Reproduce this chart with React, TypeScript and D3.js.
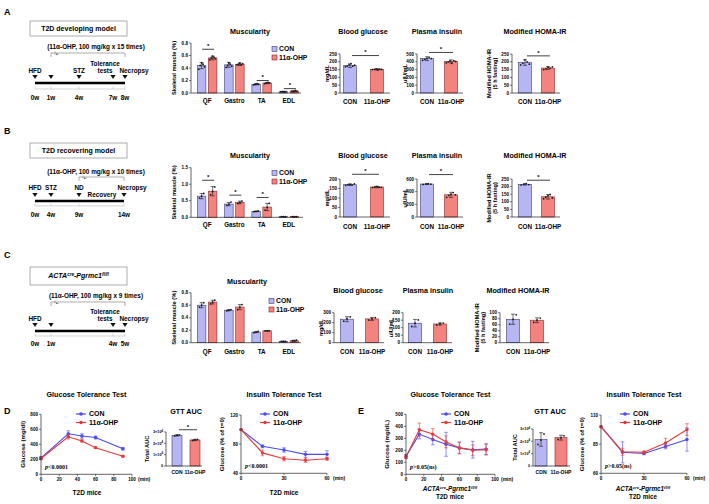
import React from 'react';
import * as d3 from 'd3';

const FONT = "'Liberation Sans', Arial, sans-serif";
const CON_FILL = '#b6b6f3';
const CON_EDGE = '#3c3c78';
const OHP_FILL = '#f3837f';
const OHP_EDGE = '#8a2626';
const CON_LINE = '#4a4af0';
const OHP_LINE = '#e43a3a';
const AXIS = '#222';

const GROUPS = ['CON', '11α-OHP'];
const MUSCLES = ['QF', 'Gastro', 'TA', 'EDL'];

// ---- A: T2D developing model ----
const muscA_con = [0.44, 0.45, 0.14, 0.02];
const muscA_conErr = [0.05, 0.04, 0.01, 0.005];
const muscA_ohp = [0.56, 0.46, 0.16, 0.03];
const muscA_ohpErr = [0.03, 0.02, 0.01, 0.01];
const muscA_sig = [0.7, null, 0.2, 0.07];
const muscA_ticks = [0, 0.2, 0.4, 0.6, 0.8];
const muscA_conPts = [[0.38, 0.44, 0.48, 0.46, 0.42], [0.41, 0.44, 0.48, 0.46, 0.43], [0.13, 0.14, 0.15, 0.14], [0.02, 0.02, 0.02, 0.02]];
const muscA_ohpPts = [[0.53, 0.56, 0.59, 0.57, 0.55], [0.45, 0.46, 0.48, 0.45, 0.47], [0.15, 0.16, 0.17, 0.16], [0.03, 0.02, 0.04, 0.03]];

const glucA = [175, 152];
const glucA_err = [12, 5];
const glucA_pts = [[168, 172, 180, 188, 172, 178], [150, 152, 155, 148, 153, 151]];
const glucA_ticks = [0, 50, 100, 150, 200, 250];
const insA = [440, 405];
const insA_err = [25, 20];
const insA_pts = [[420, 430, 445, 458, 440], [385, 400, 410, 380, 415, 405]];
const insA_ticks = [0, 100, 200, 300, 400, 500];
const homaA = [195, 160];
const homaA_err = [18, 10];
const homaA_pts = [[180, 190, 212, 200, 185], [150, 155, 165, 160, 168]];
const homaA_ticks = [0, 50, 100, 150, 200, 250];

// ---- B: T2D recovering model ----
const muscB_con = [0.64, 0.4, 0.18, 0.02];
const muscB_conErr = [0.08, 0.05, 0.01, 0.005];
const muscB_ohp = [0.79, 0.45, 0.31, 0.02];
const muscB_ohpErr = [0.14, 0.04, 0.11, 0.005];
const muscB_sig = [1.12, 0.67, 0.6, null];
const muscB_ticks = [0, 0.5, 1.0, 1.5];
const muscB_conPts = [[0.58, 0.64, 0.72], [0.36, 0.4, 0.46], [0.17, 0.18, 0.19], [0.02, 0.02, 0.02]];
const muscB_ohpPts = [[0.68, 0.78, 0.92], [0.42, 0.45, 0.49], [0.22, 0.3, 0.42], [0.02, 0.02, 0.02]];

const glucB = [170, 158];
const glucB_err = [4, 4];
const glucB_pts = [[166, 170, 172, 168, 174], [155, 158, 160, 157, 156]];
const glucB_ticks = [0, 50, 100, 150, 200];
const insB = [520, 350];
const insB_err = [8, 40];
const insB_pts = [[515, 520, 525, 518], [310, 340, 360, 385, 350]];
const insB_ticks = [0, 200, 400, 600];
const homaB = [215, 133];
const homaB_err = [5, 15];
const homaB_pts = [[210, 215, 220, 213], [120, 130, 140, 148, 125]];
const homaB_ticks = [0, 50, 100, 150, 200, 250];

// ---- C: ACTA-cre Pgrmc1 fl/fl ----
const muscC_con = [0.6, 0.52, 0.17, 0.02];
const muscC_conErr = [0.04, 0.01, 0.01, 0.005];
const muscC_ohp = [0.65, 0.57, 0.19, 0.03];
const muscC_ohpErr = [0.03, 0.04, 0.005, 0.01];
const muscC_sig = [null, null, null, null];
const muscC_ticks = [0, 0.2, 0.4, 0.6, 0.8];
const muscC_conPts = [[0.57, 0.6, 0.64], [0.51, 0.52, 0.53], [0.16, 0.17, 0.18], [0.02, 0.02, 0.02]];
const muscC_ohpPts = [[0.62, 0.65, 0.68], [0.53, 0.57, 0.61], [0.19, 0.19, 0.19], [0.03, 0.03, 0.04]];

const glucC = [235, 238];
const glucC_err = [25, 15];
const glucC_pts = [[215, 240, 258], [226, 240, 250]];
const glucC_ticks = [0, 100, 200, 300];
const insC = [130, 125];
const insC_err = [25, 8];
const insC_pts = [[108, 130, 152], [118, 127, 131]];
const insC_ticks = [0, 50, 100, 150, 200];
const homaC = [78, 75];
const homaC_err = [17, 8];
const homaC_pts = [[62, 78, 93], [68, 75, 82]];
const homaC_ticks = [0, 20, 40, 60, 80, 100];

// ---- D: T2D mice tolerance tests ----
const gttD_t = [0, 30, 45, 60, 90];
const gttD_con = [220, 540, 510, 490, 340];
const gttD_conErr = [15, 40, 30, 20, 15];
const gttD_ohp = [210, 500, 445, 355, 240];
const gttD_ohpErr = [15, 30, 15, 10, 10];
const gttD_yTicks = [0, 200, 400, 600, 800];
const gttD_xTicks = [0, 20, 40, 60, 80, 100];
const aucD = [2.7e4, 2.3e4];
const aucD_err = [0.06e4, 0.06e4];
const aucD_pts = [[2.65e4, 2.72e4, 2.75e4], [2.25e4, 2.3e4, 2.34e4]];
const auc_ticks = [0, 1e4, 2e4, 3e4];
const ittD_t = [0, 15, 30, 45, 60];
const ittD_con = [100, 77, 72, 66, 66];
const ittD_conErr = [0, 2, 3, 4, 5];
const ittD_ohp = [100, 68, 60, 58, 60];
const ittD_ohpErr = [0, 4, 3, 3, 2];
const ittD_yTicks = [40, 80, 120];
const itt_xTicks = [0, 30, 60];

// ---- E: ACTA-cre Pgrmc1 fl/fl T2D mice ----
const gttE_t = [0, 15, 30, 45, 60, 75, 90];
const gttE_con = [150, 335, 290, 250, 220, 205, 210];
const gttE_conErr = [15, 40, 45, 100, 50, 70, 45];
const gttE_ohp = [145, 372, 335, 270, 220, 200, 205];
const gttE_ohpErr = [15, 55, 45, 50, 45, 45, 45];
const gttE_yTicks = [0, 100, 200, 300, 400, 500];
const aucE = [2.15e4, 2.3e4];
const aucE_err = [0.55e4, 0.2e4];
const aucE_pts = [[1.75e4, 2.1e4, 2.6e4], [2.15e4, 2.3e4, 2.45e4]];
const ittE_t = [0, 15, 30, 45, 60];
const ittE_con = [100, 78, 77, 83, 89];
const ittE_conErr = [0, 9, 1, 2, 10];
const ittE_ohp = [100, 78.5, 78, 86, 97.5];
const ittE_ohpErr = [0, 3, 1, 4, 5];
const ittE_yTicks = [60, 85, 110];

// Timelines
const tlA_weeks = [0, 1, 4, 7, 8];
const tlB_weeks = [0, 4, 9, 14];
const tlC_weeks = [0, 1, 4, 5];

type Fmt = (v: number) => React.ReactNode;

function YAxis({ x, scale, ticks, fmt, fs = 4.6 }: { x: number; scale: any; ticks: number[]; fmt?: Fmt; fs?: number }) {
  const [r0, r1] = scale.range();
  return (
    <g>
      <line x1={x} x2={x} y1={r0} y2={r1} stroke={AXIS} strokeWidth={0.7} />
      {ticks.map((t) => (
        <g key={t}>
          <line x1={x - 2} x2={x} y1={scale(t)} y2={scale(t)} stroke={AXIS} strokeWidth={0.6} />
          <text x={x - 3} y={scale(t)} dy="0.35em" textAnchor="end" fontSize={fs} fontWeight="bold">
            {fmt ? fmt(t) : String(t)}
          </text>
        </g>
      ))}
    </g>
  );
}

function RotLabel({ x, y, lines, fs = 6 }: { x: number; y: number; lines: string[]; fs?: number }) {
  return (
    <text transform={`translate(${x},${y}) rotate(-90)`} textAnchor="middle" fontSize={fs} fontWeight="bold">
      {lines.map((l, i) => (
        <tspan key={i} x={0} dy={i === 0 ? 0 : fs * 1.15}>
          {l}
        </tspan>
      ))}
    </text>
  );
}

function Bar({ cx, w, v, e, pts, y, fill, edge }: any) {
  const top = y(v);
  const base = y(0);
  return (
    <g>
      <rect x={cx - w / 2} y={top} width={w} height={base - top} fill={fill} stroke={edge} strokeWidth={0.6} />
      {pts &&
        pts.map((p: number, i: number) => (
          <circle key={i} cx={cx + (i - (pts.length - 1) / 2) * (w / (pts.length + 1))} cy={y(p)} r={0.9} fill="#1a1a1a" />
        ))}
      {e > 0 && (
        <g stroke="#1a1a1a" strokeWidth={0.6}>
          <line x1={cx} x2={cx} y1={y(v - e)} y2={y(v + e)} />
          <line x1={cx - 2} x2={cx + 2} y1={y(v + e)} y2={y(v + e)} />
          <line x1={cx - 2} x2={cx + 2} y1={y(v - e)} y2={y(v - e)} />
        </g>
      )}
    </g>
  );
}

function Sig({ x1, x2, y }: { x1: number; x2: number; y: number }) {
  return (
    <g>
      <line x1={x1} x2={x2} y1={y} y2={y} stroke="#111" strokeWidth={0.8} />
      <text x={(x1 + x2) / 2} y={y - 1.2} textAnchor="middle" fontSize={6} fontWeight="bold">
        *
      </text>
    </g>
  );
}

function PairBars(props: {
  ax: number; yTop: number; yBot: number; max: number; ticks: number[]; fmt?: Fmt;
  values: number[]; errs: number[]; pts?: number[][]; c1: number; c2: number; axisEnd: number;
  sig?: number; title: string; titleX: number; titleY: number; ylabel: string[]; ylabelX: number;
  labelY: number; labelFs?: number; barW?: number; tickFs?: number;
}) {
  const { ax, yTop, yBot, max, ticks, fmt, values, errs, pts, c1, c2, axisEnd, sig, title, titleX, titleY, ylabel, ylabelX, labelY } = props;
  const y = d3.scaleLinear().domain([0, max]).range([yBot, yTop]);
  const x = d3.scalePoint<string>().domain(GROUPS).range([c1, c2]);
  const w = props.barW ?? 13;
  const lfs = props.labelFs ?? 6.3;
  return (
    <g>
      <text x={titleX} y={titleY} textAnchor="middle" fontSize={7.2} fontWeight="bold">{title}</text>
      {GROUPS.map((g, i) => (
        <Bar key={g} cx={x(g)} w={w} v={values[i]} e={errs[i]} pts={pts ? pts[i] : undefined} y={y}
          fill={i === 0 ? CON_FILL : OHP_FILL} edge={i === 0 ? CON_EDGE : OHP_EDGE} />
      ))}
      <YAxis x={ax} scale={y} ticks={ticks} fmt={fmt} fs={props.tickFs} />
      <line x1={ax} x2={axisEnd} y1={yBot} y2={yBot} stroke={AXIS} strokeWidth={0.7} />
      {GROUPS.map((g) => (
        <text key={g} x={x(g)} y={labelY} textAnchor="middle" fontSize={lfs} fontWeight="bold">{g}</text>
      ))}
      {sig !== undefined && <Sig x1={(x(GROUPS[0]) as number) + 2} x2={(x(GROUPS[1]) as number) + 2} y={y(sig)} />}
      <RotLabel x={ylabelX} y={(yTop + yBot) / 2} lines={ylabel} fs={5.6} />
    </g>
  );
}

function LegendBoxes({ x, y }: { x: number; y: number }) {
  return (
    <g fontSize={6.8} fontWeight="bold">
      <rect x={x} y={y - 2.5} width={5} height={5} fill={CON_FILL} stroke={CON_EDGE} strokeWidth={0.6} />
      <text x={x + 7} y={y} dy="0.35em">CON</text>
      <rect x={x} y={y + 6} width={5} height={5} fill={OHP_FILL} stroke={OHP_EDGE} strokeWidth={0.6} />
      <text x={x + 7} y={y + 8.5} dy="0.35em">11α-OHP</text>
    </g>
  );
}

function Muscularity(props: {
  yTop: number; yBot: number; max: number; ticks: number[]; con: number[]; conErr: number[];
  ohp: number[]; ohpErr: number[]; conPts: number[][]; ohpPts: number[][]; sig: (number | null)[];
  titleY: number; titleX: number; legendX: number; legendY: number; labelY: number; axisEnd: number;
}) {
  const { yTop, yBot, max, ticks, con, conErr, ohp, ohpErr, conPts, ohpPts, sig } = props;
  const ax = 191;
  const y = d3.scaleLinear().domain([0, max]).range([yBot, yTop]);
  const x = d3.scaleBand<string>().domain(MUSCLES).range([193.5, 302.5]);
  const w = 8.5;
  return (
    <g>
      <text x={props.titleX} y={props.titleY} textAnchor="middle" fontSize={7.2} fontWeight="bold">Muscularity</text>
      {MUSCLES.map((m, i) => {
        const c = (x(m) as number) + x.bandwidth() / 2;
        return (
          <g key={m}>
            <Bar cx={c - 5.5} w={w} v={con[i]} e={conErr[i]} pts={conPts[i]} y={y} fill={CON_FILL} edge={CON_EDGE} />
            <Bar cx={c + 5.5} w={w} v={ohp[i]} e={ohpErr[i]} pts={ohpPts[i]} y={y} fill={OHP_FILL} edge={OHP_EDGE} />
            {sig[i] !== null && <Sig x1={c - 5} x2={c + 7} y={y(sig[i] as number)} />}
            <text x={c} y={props.labelY} textAnchor="middle" fontSize={6.3} fontWeight="bold">{m}</text>
          </g>
        );
      })}
      <YAxis x={ax} scale={y} ticks={ticks} fmt={(v) => d3.format('.1f')(v)} />
      <line x1={ax} x2={props.axisEnd} y1={yBot} y2={yBot} stroke={AXIS} strokeWidth={0.7} />
      <RotLabel x={176} y={(yTop + yBot) / 2} lines={['Skeletal muscle (%)']} fs={5.8} />
      <LegendBoxes x={props.legendX} y={props.legendY} />
    </g>
  );
}

function Tri({ x, y }: { x: number; y: number }) {
  return <path d={`M${x - 2.6},${y} L${x + 2.6},${y} L${x},${y + 4} Z`} fill="#111" />;
}

function Timeline(props: {
  weeks: number[]; xs: number[]; tri: number[];
  boxY: number; boxH: number; boxText: React.ReactNode;
  doseY: number; doseText: string; bracket: [number, number]; bracketY: number;
  events: { w: number; lines: string[]; dx?: number }[]; labelY: number;
  triY: number; lineY: number; bottomY: number; weekY: number; extra?: { text: string; x: number; y: number };
}) {
  const x = d3.scaleLinear().domain(props.weeks).range(props.xs);
  const bx1 = x(props.bracket[0]);
  const bx2 = x(props.bracket[1]);
  const fs = 6.4;
  return (
    <g fontWeight="bold">
      <rect x={30} y={props.boxY} width={97} height={props.boxH} fill="#fff" stroke="#999" strokeWidth={0.8} />
      <text x={78.5} y={props.boxY + props.boxH / 2} dy="0.35em" textAnchor="middle" fontSize={7}>{props.boxText}</text>
      <text x={96} y={props.doseY} textAnchor="middle" fontSize={6.4}>{props.doseText}</text>
      <g stroke="#777" strokeWidth={0.6} fill="none">
        <path d={`M${bx1},${props.bracketY + 4} V${props.bracketY} H${bx2} V${props.bracketY + 4}`} />
        <path d={`M${bx1 + 4},${props.bracketY - 1.5} V${props.bracketY + 1.5}`} />
      </g>
      <path d={`M${bx1 + 5},${props.bracketY + 0.2} l3,1 l-3,1 Z`} fill="#777" />
      {props.events.map((e, i) => (
        <text key={i} x={x(e.w) + (e.dx ?? 0)} y={props.labelY - (e.lines.length - 1) * 7} textAnchor="middle" fontSize={fs}>
          {e.lines.map((l, j) => (
            <tspan key={j} x={x(e.w) + (e.dx ?? 0)} dy={j === 0 ? 0 : 7}>{l}</tspan>
          ))}
        </text>
      ))}
      {props.extra && <text x={props.extra.x} y={props.extra.y} textAnchor="middle" fontSize={fs}>{props.extra.text}</text>}
      {props.tri.map((w) => <Tri key={w} x={x(w)} y={props.triY} />)}
      <line x1={x(props.weeks[0])} x2={x(props.weeks[props.weeks.length - 1])} y1={props.lineY} y2={props.lineY} stroke="#000" strokeWidth={2.4} />
      <g stroke="#aaa" strokeWidth={0.5}>
        <line x1={x(props.weeks[0])} x2={x(props.weeks[props.weeks.length - 1])} y1={props.bottomY} y2={props.bottomY} />
        {props.weeks.map((w) => <line key={w} x1={x(w)} x2={x(w)} y1={props.bottomY - 2.5} y2={props.bottomY} />)}
      </g>
      {props.weeks.map((w) => (
        <text key={w} x={x(w)} y={props.weekY} textAnchor="middle" fontSize={fs}>{w}w</text>
      ))}
    </g>
  );
}

const actaLabel = (
  <tspan fontStyle="italic">
    ACTA<tspan fontSize="65%" dy={-2.2}>cre</tspan>
    <tspan dy={2.2}>-Pgrmc1</tspan>
    <tspan fontSize="65%" dy={-2.2}>fl/fl</tspan>
  </tspan>
);

function LineLegend({ x, y }: { x: number; y: number }) {
  return (
    <g fontSize={7} fontWeight="bold">
      <line x1={x} x2={x + 10} y1={y} y2={y} stroke={CON_LINE} strokeWidth={1.2} />
      <circle cx={x + 5} cy={y} r={1.8} fill={CON_LINE} />
      <text x={x + 13} y={y} dy="0.35em">CON</text>
      <line x1={x} x2={x + 10} y1={y + 8.5} y2={y + 8.5} stroke={OHP_LINE} strokeWidth={1.2} />
      <circle cx={x + 5} cy={y + 8.5} r={1.8} fill={OHP_LINE} />
      <text x={x + 13} y={y + 8.5} dy="0.35em">11α-OHP</text>
    </g>
  );
}

function LineChart(props: {
  x0: number; x1: number; yTop: number; yBot: number; xDomain: [number, number]; yDomain: [number, number];
  xTicks: number[]; yTicks: number[]; t: number[]; con: number[]; conErr: number[]; ohp: number[]; ohpErr: number[];
  title: string; ylabel: string; ylabelX: number; legendX: number; pLabel: string; footer: React.ReactNode;
}) {
  const x = d3.scaleLinear().domain(props.xDomain).range([props.x0, props.x1]);
  const y = d3.scaleLinear().domain(props.yDomain).range([props.yBot, props.yTop]);
  const line = d3.line<number>().x((_, i) => x(props.t[i])).y((d) => y(d));
  const series = [
    { v: props.con, e: props.conErr, c: CON_LINE },
    { v: props.ohp, e: props.ohpErr, c: OHP_LINE },
  ];
  const cx = (props.x0 + props.x1) / 2;
  return (
    <g>
      <text x={cx} y={397} textAnchor="middle" fontSize={7.2} fontWeight="bold">{props.title}</text>
      {series.map((s, k) => (
        <g key={k}>
          {s.v.map((v, i) =>
            s.e[i] > 0 ? (
              <g key={i} stroke={s.c} strokeWidth={0.6}>
                <line x1={x(props.t[i])} x2={x(props.t[i])} y1={y(v - s.e[i])} y2={y(v + s.e[i])} />
                <line x1={x(props.t[i]) - 1.8} x2={x(props.t[i]) + 1.8} y1={y(v + s.e[i])} y2={y(v + s.e[i])} />
                <line x1={x(props.t[i]) - 1.8} x2={x(props.t[i]) + 1.8} y1={y(v - s.e[i])} y2={y(v - s.e[i])} />
              </g>
            ) : null
          )}
          <path d={line(s.v) as string} fill="none" stroke={s.c} strokeWidth={1.1} />
          {s.v.map((v, i) => <circle key={i} cx={x(props.t[i])} cy={y(v)} r={1.7} fill={s.c} />)}
        </g>
      ))}
      <YAxis x={props.x0} scale={y} ticks={props.yTicks} />
      <line x1={props.x0} x2={props.x1} y1={props.yBot} y2={props.yBot} stroke={AXIS} strokeWidth={0.7} />
      {props.xTicks.map((t) => (
        <g key={t}>
          <line x1={x(t)} x2={x(t)} y1={props.yBot} y2={props.yBot + 2} stroke={AXIS} strokeWidth={0.6} />
          <text x={x(t)} y={props.yBot + 7} textAnchor="middle" fontSize={4.6} fontWeight="bold">{t}</text>
        </g>
      ))}
      <text x={props.x1 + 6} y={props.yBot + 7} fontSize={5} fontWeight="bold">(min)</text>
      <RotLabel x={props.ylabelX} y={(props.yTop + props.yBot) / 2} lines={[props.ylabel]} fs={6.2} />
      <LineLegend x={props.legendX} y={414} />
      <text x={props.x0 + 4} y={props.yBot - 5} fontSize={6} fontWeight="bold" fontFamily="'Liberation Serif', serif">
        <tspan fontStyle="italic">p</tspan>
        {props.pLabel}
      </text>
      {props.footer}
    </g>
  );
}

const aucFmt: Fmt = (v) =>
  v === 0 ? '0' : (
    <>
      {v / 1e4}×10<tspan fontSize="70%" dy={-1.5}>4</tspan>
    </>
  );

export default function App() {
  return (
    <svg width={709} height={504} viewBox="0 0 709 504" fontFamily={FONT}
      style={{ position: 'absolute', left: 0, top: 0, background: '#fff' }}>
      <rect width={709} height={504} fill="#fff" />

      {/* Panel letters */}
      <g fontSize={9} fontWeight="bold">
        <text x={4} y={15}>A</text>
        <text x={4} y={134}>B</text>
        <text x={4} y={258}>C</text>
        <text x={4} y={414}>D</text>
        <text x={358} y={414}>E</text>
      </g>

      {/* ===== A ===== */}
      <Timeline weeks={tlA_weeks} xs={[35, 51, 79, 113, 125]} tri={tlA_weeks}
        boxY={21} boxH={15} boxText="T2D developing model"
        doseY={49} doseText="(11α-OHP, 100 mg/kg x 15 times)" bracket={[1, 8]} bracketY={53}
        events={[{ w: 0, lines: ['HFD'] }, { w: 4, lines: ['STZ'] }, { w: 7, lines: ['Tolerance', 'tests'], dx: -8 }, { w: 8, lines: ['Necropsy'], dx: 9 }]}
        labelY={73} triY={75} lineY={83} bottomY={89} weekY={100} />
      <Muscularity yTop={43} yBot={93} max={0.8} ticks={muscA_ticks} con={muscA_con} conErr={muscA_conErr}
        ohp={muscA_ohp} ohpErr={muscA_ohpErr} conPts={muscA_conPts} ohpPts={muscA_ohpPts} sig={muscA_sig}
        titleX={250} titleY={34} legendX={272} legendY={49} labelY={103} axisEnd={301} />
      <PairBars ax={340} yTop={54} yBot={93} max={250} ticks={glucA_ticks} values={glucA} errs={glucA_err} pts={glucA_pts}
        c1={350} c2={377} axisEnd={390} sig={240} title="Blood glucose" titleX={363} titleY={34}
        ylabel={['mg/dL']} ylabelX={329} labelY={104} />
      <PairBars ax={417} yTop={54} yBot={93} max={500} ticks={insA_ticks} values={insA} errs={insA_err} pts={insA_pts}
        c1={427} c2={451} axisEnd={463} sig={520} title="Plasma insulin" titleX={437} titleY={34}
        ylabel={['uIU/mL']} ylabelX={407} labelY={104} />
      <PairBars ax={512} yTop={54} yBot={93} max={250} ticks={homaA_ticks} values={homaA} errs={homaA_err} pts={homaA_pts}
        c1={525} c2={548} axisEnd={560} sig={238} title="Modified HOMA-IR" titleX={535} titleY={34}
        ylabel={['Modified HOMA-IR', '(5 h fasting)']} ylabelX={491} labelY={104} />

      {/* ===== B ===== */}
      <Timeline weeks={tlB_weeks} xs={[35, 51, 79, 124]} tri={tlB_weeks}
        boxY={143} boxH={15} boxText="T2D recovering model"
        doseY={174} doseText="(11α-OHP, 100 mg/kg x 10 times)" bracket={[9, 14]} bracketY={177}
        events={[{ w: 0, lines: ['HFD'] }, { w: 4, lines: ['STZ'] }, { w: 9, lines: ['ND'] }, { w: 14, lines: ['Necropsy'], dx: 8 }]}
        extra={{ text: 'Recovery', x: 102, y: 197 }}
        labelY={190} triY={193} lineY={201} bottomY={206} weekY={217} />
      <Muscularity yTop={167.7} yBot={217.3} max={1.5} ticks={muscB_ticks} con={muscB_con} conErr={muscB_conErr}
        ohp={muscB_ohp} ohpErr={muscB_ohpErr} conPts={muscB_conPts} ohpPts={muscB_ohpPts} sig={muscB_sig}
        titleX={250} titleY={158} legendX={272} legendY={173} labelY={227} axisEnd={303} />
      <PairBars ax={340} yTop={179} yBot={217} max={200} ticks={glucB_ticks} values={glucB} errs={glucB_err} pts={glucB_pts}
        c1={350} c2={377} axisEnd={390} sig={225} title="Blood glucose" titleX={363} titleY={158}
        ylabel={['mg/dL']} ylabelX={329} labelY={229} />
      <PairBars ax={417} yTop={179} yBot={217} max={600} ticks={insB_ticks} values={insB} errs={insB_err} pts={insB_pts}
        c1={427} c2={451} axisEnd={463} sig={670} title="Plasma insulin" titleX={437} titleY={158}
        ylabel={['uIU/mL']} ylabelX={407} labelY={229} />
      <PairBars ax={512} yTop={179} yBot={217} max={250} ticks={homaB_ticks} values={homaB} errs={homaB_err} pts={homaB_pts}
        c1={525} c2={548} axisEnd={560} sig={242} title="Modified HOMA-IR" titleX={535} titleY={158}
        ylabel={['Modified HOMA-IR', '(5 h fasting)']} ylabelX={491} labelY={229} />

      {/* ===== C ===== */}
      <Timeline weeks={tlC_weeks} xs={[35, 51, 113, 125]} tri={tlC_weeks}
        boxY={267} boxH={18} boxText={actaLabel}
        doseY={298} doseText="(11α-OHP, 100 mg/kg x 9 times)" bracket={[1, 5]} bracketY={302}
        events={[{ w: 0, lines: ['HFD'] }, { w: 4, lines: ['Tolerance', 'tests'], dx: -8 }, { w: 5, lines: ['Necropsy'], dx: 9 }]}
        labelY={321} triY={323} lineY={331} bottomY={336} weekY={346} />
      <Muscularity yTop={292.7} yBot={342.7} max={0.8} ticks={muscC_ticks} con={muscC_con} conErr={muscC_conErr}
        ohp={muscC_ohp} ohpErr={muscC_ohpErr} conPts={muscC_conPts} ohpPts={muscC_ohpPts} sig={muscC_sig}
        titleX={247} titleY={284} legendX={269} legendY={301} labelY={354} axisEnd={301} />
      <PairBars ax={334} yTop={312.7} yBot={342.7} max={300} ticks={glucC_ticks} values={glucC} errs={glucC_err} pts={glucC_pts}
        c1={347} c2={372} axisEnd={384} title="Blood glucose" titleX={358} titleY={293}
        ylabel={['mg/dL']} ylabelX={323} labelY={354} />
      <PairBars ax={403} yTop={312.7} yBot={342.7} max={200} ticks={insC_ticks} values={insC} errs={insC_err} pts={insC_pts}
        c1={415} c2={440} axisEnd={452} title="Plasma insulin" titleX={428} titleY={293}
        ylabel={['uIU/mL']} ylabelX={393} labelY={354} />
      <PairBars ax={500} yTop={312.7} yBot={342.7} max={100} ticks={homaC_ticks} values={homaC} errs={homaC_err} pts={homaC_pts}
        c1={513} c2={537} axisEnd={549} title="Modified HOMA-IR" titleX={518} titleY={293}
        ylabel={['Modified HOMA-IR', '(5 h fasting)']} ylabelX={479} labelY={354} />

      {/* ===== D ===== */}
      <LineChart x0={41} x1={132} yTop={414.3} yBot={474.3} xDomain={[0, 100]} yDomain={[0, 800]}
        xTicks={gttD_xTicks} yTicks={gttD_yTicks} t={gttD_t} con={gttD_con} conErr={gttD_conErr}
        ohp={gttD_ohp} ohpErr={gttD_ohpErr} title="Glucose Tolerance Test" ylabel="Glucose (mg/dl)" ylabelX={25}
        legendX={76} pLabel="<0.0001"
        footer={<text x={87} y={495} textAnchor="middle" fontSize={6.5} fontWeight="bold">T2D mice</text>} />
      <PairBars ax={166} yTop={432} yBot={466} max={3e4} ticks={auc_ticks} fmt={aucFmt} values={aucD} errs={aucD_err} pts={aucD_pts}
        c1={177} c2={195} axisEnd={202} sig={3.2e4} title="GTT AUC" titleX={186} titleY={414}
        ylabel={['Total AUC']} ylabelX={149} labelY={474} labelFs={5} barW={10} tickFs={3.8} />
      <LineChart x0={241} x1={327} yTop={415} yBot={473.3} xDomain={[0, 60]} yDomain={[40, 120]}
        xTicks={itt_xTicks} yTicks={ittD_yTicks} t={ittD_t} con={ittD_con} conErr={ittD_conErr}
        ohp={ittD_ohp} ohpErr={ittD_ohpErr} title="Insulin Tolerance Test" ylabel="Glucose (% of t=0)" ylabelX={224}
        legendX={260} pLabel="<0.0001"
        footer={<text x={284} y={495} textAnchor="middle" fontSize={6.5} fontWeight="bold">T2D mice</text>} />

      {/* ===== E ===== */}
      <LineChart x0={406} x1={495} yTop={414.3} yBot={474.3} xDomain={[0, 100]} yDomain={[0, 500]}
        xTicks={gttD_xTicks} yTicks={gttE_yTicks} t={gttE_t} con={gttE_con} conErr={gttE_conErr}
        ohp={gttE_ohp} ohpErr={gttE_ohpErr} title="Glucose Tolerance Test" ylabel="Glucose (mg/dL)" ylabelX={389}
        legendX={441} pLabel=">0.05(ns)"
        footer={
          <g fontSize={6.3} fontWeight="bold" textAnchor="middle">
            <text x={450} y={491}>{actaLabel}</text>
            <text x={450} y={499}>T2D mice</text>
          </g>
        } />
      <PairBars ax={533} yTop={429} yBot={466} max={3e4} ticks={auc_ticks} fmt={aucFmt} values={aucE} errs={aucE_err} pts={aucE_pts}
        c1={541} c2={561} axisEnd={570} title="GTT AUC" titleX={550} titleY={414}
        ylabel={['Total AUC']} ylabelX={517} labelY={474} labelFs={5} barW={12} tickFs={3.8} />
      <LineChart x0={601} x1={687} yTop={415} yBot={473.3} xDomain={[0, 60]} yDomain={[60, 110]}
        xTicks={itt_xTicks} yTicks={ittE_yTicks} t={ittE_t} con={ittE_con} conErr={ittE_conErr}
        ohp={ittE_ohp} ohpErr={ittE_ohpErr} title="Insulin Tolerance Test" ylabel="Glucose (% of t=0)" ylabelX={584}
        legendX={620} pLabel=">0.05(ns)"
        footer={
          <g fontSize={6.3} fontWeight="bold" textAnchor="middle">
            <text x={643} y={491}>{actaLabel}</text>
            <text x={643} y={499}>T2D mice</text>
          </g>
        } />
    </svg>
  );
}
